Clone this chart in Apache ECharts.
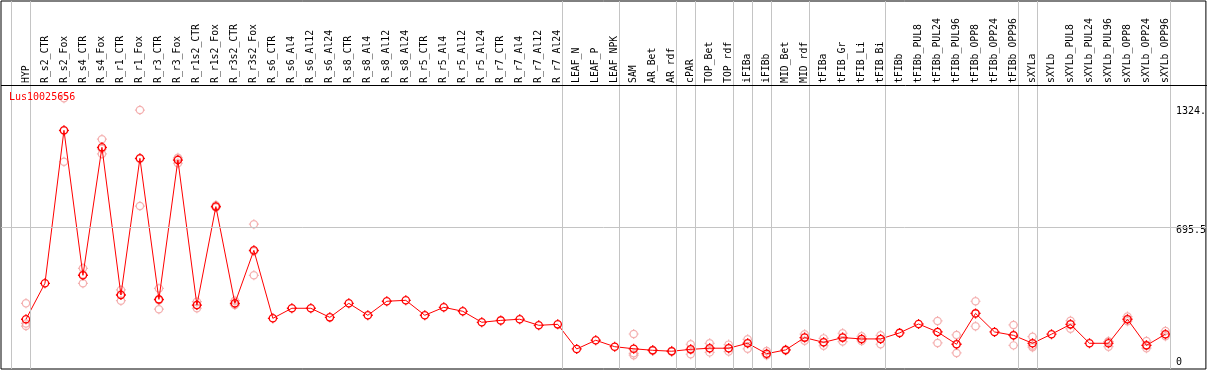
<!DOCTYPE html>
<html>
<head>
<meta charset="utf-8">
<script src="https://cdn.jsdelivr.net/npm/echarts@6/dist/echarts.min.js"></script>
<style>
html,body{margin:0;padding:0;background:#fff;}
#chart{width:1209px;height:370px;}
</style>
</head>
<body>
<div id="chart"></div>
<script>
// ---------- data ----------
const chartTitle = "Lus10025656";
const categories = ["HYP","R_s2_CTR","R_s2_Fox","R_s4_CTR","R_s4_Fox","R_r1_CTR","R_r1_Fox","R_r3_CTR","R_r3_Fox","R_r1s2_CTR","R_r1s2_Fox","R_r3s2_CTR","R_r3s2_Fox","R_s6_CTR","R_s6_Al4","R_s6_Al12","R_s6_Al24","R_s8_CTR","R_s8_Al4","R_s8_Al12","R_s8_Al24","R_r5_CTR","R_r5_Al4","R_r5_Al12","R_r5_Al24","R_r7_CTR","R_r7_Al4","R_r7_Al12","R_r7_Al24","LEAF_N","LEAF_P","LEAF_NPK","SAM","AR_Bet","AR_rdf","cPAR","TOP_Bet","TOP_rdf","iFIBa","iFIBb","MID_Bet","MID_rdf","tFIBa","tFIB_Gr","tFIB_Li","tFIB_Bi","tFIBb","tFIBb_PUL8","tFIBb_PUL24","tFIBb_PUL96","tFIBb_OPP8","tFIBb_OPP24","tFIBb_OPP96","sXYLa","sXYLb","sXYLb_PUL8","sXYLb_PUL24","sXYLb_PUL96","sXYLb_OPP8","sXYLb_OPP24","sXYLb_OPP96"];
const means = [210,400,1208,442,1118,338,1060,315,1051,285,805,294,574,215,268,268,220,294,231,305,310,231,273,252,194,204,210,178,183,53,99,65,54,46,41,51,57,57,83,28,48,113,88,113,106,106,138,185,143,78,241,143,125,83,131,183,83,83,210,72,131];
const rep1 = [294,null,1377,479,1161,365,1315,373,1063,303,812,308,712,null,null,null,null,null,null,null,null,null,null,null,null,null,null,null,null,null,null,null,132,48,43,78,83,76,104,42,50,131,109,136,120,125,null,null,201,127,305,null,180,118,null,202,null,65,224,95,148];
const rep2 = [188,null,1042,400,1083,308,808,263,1034,268,800,285,442,null,null,null,null,null,null,null,null,null,null,null,null,null,null,null,null,null,null,null,30,44,39,25,35,39,54,20,45,97,70,92,95,78,null,null,85,32,173,null,72,62,null,160,null,92,200,57,120];
const rep3 = [174,null,1205,447,1110,342,1057,310,1056,284,804,290,569,null,null,null,null,null,null,null,null,null,null,null,null,null,null,null,null,null,null,null,20,46,41,51,57,57,85,28,48,113,88,113,106,106,null,null,143,78,241,null,125,70,null,183,null,92,210,72,131];
const groupEnds = [-1,0,28,31,34,35,37,38,39,41,45,52,53,60];
const yTickValues = [0,695.5,1324];
const yTickLabels = ["0","695.5","1324."];
const gridValue = 695.5;

// ---------- layout / style ----------
const FONT = "DejaVu Sans Mono";
const xMin = -1.315, xMax = 62.13;
const yMin = -52.8, yMax = 1891;
const sepOffset = 0.242;
const headerY = 85.5;
const markPath = 'path://M-4,0A4,4,0,1,1,4,0A4,4,0,1,1,-4,0ZM0,-4L0,-5.5M0,4L0,5.5M-4,0L-5.5,0M4,0L5.5,0';

const meanData = means.map((v,i)=>[i,v]);
const repData = [];
[rep1,rep2,rep3].forEach(r=>r.forEach((v,i)=>{ if(v!==null) repData.push([i,v]); }));

const chart = echarts.init(document.getElementById('chart'), null, {renderer:'canvas'});
chart.setOption({
  animation:false,
  backgroundColor:'#fff',
  title:{text:chartTitle,left:9,top:92,padding:0,textStyle:{color:'#ff0000',fontSize:10,fontWeight:'normal',fontFamily:FONT}},
  grid:{left:1,right:2,top:1,bottom:1,show:true,borderColor:'#000',borderWidth:1,backgroundColor:'transparent'},
  graphic:[{type:'line',z:10,silent:true,shape:{x1:1,y1:headerY,x2:1207,y2:headerY},style:{stroke:'#000',lineWidth:1}}],
  xAxis:{
    type:'value',min:xMin,max:xMax,position:'top',offset:-84,
    axisLine:{show:false},
    axisTick:{show:false},splitLine:{show:false},
    axisLabel:{show:true,customValues:categories.map((c,i)=>i),interval:0,rotate:90,margin:2,
      fontFamily:FONT,fontSize:9.8,color:'#000',
      formatter:(v)=>categories[Math.round(v)]}
  },
  yAxis:{
    type:'value',min:yMin,max:yMax,position:'right',
    axisLine:{show:false},axisTick:{show:false},splitLine:{show:false},
    axisLabel:{show:true,inside:true,align:'left',margin:30,customValues:yTickValues,
      verticalAlign:'top',lineHeight:6,
      fontFamily:FONT,fontSize:10,color:'#000',
      formatter:(v)=>{const k=yTickValues.indexOf(v);return k>=0?yTickLabels[k]:'';}}
  },
  series:[
    {
      type:'scatter',data:repData,symbol:markPath,symbolSize:10,z:2,
      itemStyle:{color:'rgba(0,0,0,0)',borderColor:'#f19c9c',borderWidth:1.2},
      silent:true,
      markLine:{silent:true,symbol:'none',label:{show:false},
        lineStyle:{color:'#c4c4c4',width:1,type:'solid'},
        data:[...groupEnds.map(g=>({xAxis:g+sepOffset})),{yAxis:gridValue}]}
    },
    {
      type:'line',data:meanData,symbol:markPath,symbolSize:10,z:3,
      lineStyle:{color:'#ff0000',width:1},
      itemStyle:{color:'rgba(0,0,0,0)',borderColor:'#ff0000',borderWidth:1.3},
      silent:true
    }
  ]
});
</script>
</body>
</html>
